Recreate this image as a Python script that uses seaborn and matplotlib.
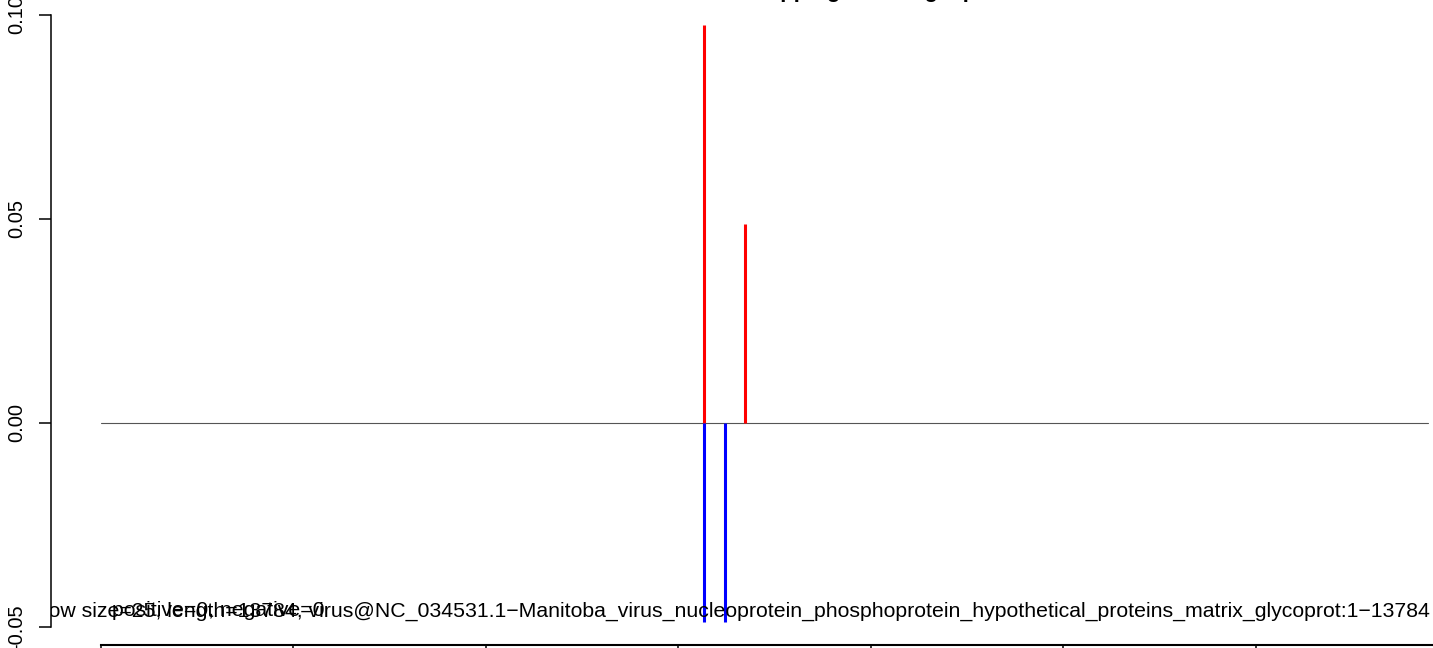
import matplotlib
matplotlib.use("Agg")
import matplotlib.pyplot as plt
import seaborn as sns

# values
pos_x = [6265, 6690]
pos_y = [0.0976, 0.0488]
neg_x = [6265, 6483]
neg_y = [-0.0488, -0.0488]
genome_len = 13784
y_ticks = [-0.05, 0.0, 0.05, 0.10]
y_labels = ["-0.05", "0.00", "0.05", "0.10"]
bottom_ticks = [0, 2000, 4000, 6000, 8000, 10000, 12000]
info_text = ("window size=25, length=13784, virus@NC_034531.1\u2212Manitoba_virus_nucleoprotein_"
             "phosphoprotein_hypothetical_proteins_matrix_glycoprot:1\u221213784")
count_text = "positive=0, negative=0"
title_text = "siRNA_mapping_coverage_profile"

sns.set_theme(style="white")
plt.rcParams["font.family"] = ["Liberation Sans", "DejaVu Sans"]
plt.rcParams["text.color"] = "black"
plt.rcParams["ytick.color"] = "black"

W, H = 1433, 648
fig = plt.figure(figsize=(W / 100, H / 100), dpi=100)
ax = fig.add_axes([51 / W, (H - 627) / H, (W - 51) / W, (627 - 15) / H])
ax.set_xlim(-519.5, 13839)
ax.set_ylim(-0.05, 0.10)

sns.lineplot(x=[0, genome_len], y=[0, 0], color="#555555", linewidth=0.8, ax=ax)
ax.vlines(pos_x, 0, pos_y, color="red", linewidth=2.2)
ax.vlines(neg_x, 0, neg_y, color="blue", linewidth=2.2)

for s in ["top", "right", "bottom"]:
    ax.spines[s].set_visible(False)
ax.spines["left"].set_linewidth(1.1)
ax.spines["left"].set_color("black")
ax.set_xticks([])
ax.set_yticks(y_ticks)
ax.set_yticklabels(y_labels, rotation=90, va="center", fontsize=14.5, color="black")
ax.tick_params(axis="y", left=True, length=9, width=1.1, pad=9, color="black")

ax.text(13810, -0.0474, info_text, ha="right", va="baseline", fontsize=15.3,
        color="black", clip_on=True)
ax.text(115, -0.0474, count_text, ha="left", va="baseline", fontsize=15.3,
        color="black", clip_on=True)

fig.text(850 / W, (H + 3) / H, title_text, ha="center", va="baseline",
         fontsize=16, fontweight="bold", color="black")

# top edge of the panel below
ax2 = fig.add_axes([101 / W, -20 / H, (W - 101) / W, 23 / H])
ax2.set_xlim(0, 13839)
ax2.set_ylim(0, 1)
for s in ["bottom", "left", "right"]:
    ax2.spines[s].set_visible(False)
ax2.spines["top"].set_linewidth(1.5)
ax2.spines["top"].set_color("black")
ax2.xaxis.tick_top()
ax2.set_xticks(bottom_ticks)
ax2.set_xticklabels([])
ax2.set_yticks([])
ax2.tick_params(axis="x", direction="in", length=8, width=1.1, color="black")
ax2.patch.set_alpha(0)

fig.savefig("out.png", dpi=100)
